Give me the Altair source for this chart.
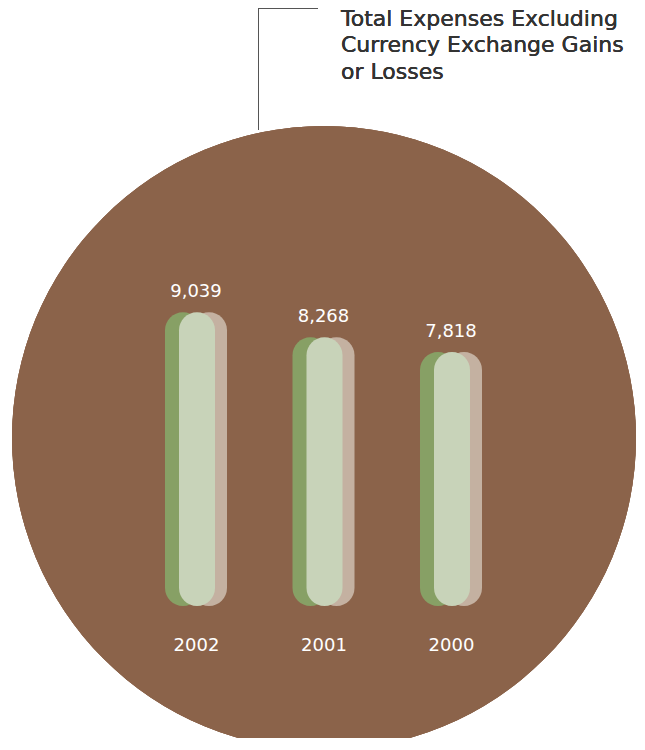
import altair as alt
import pandas as pd

years = ["2002", "2001", "2000"]
expenses = [9039, 8268, 7818]
labels = ["9,039", "8,268", "7,818"]
title_lines = ["Total Expenses Excluding", "Currency Exchange Gains", "or Losses"]

df = pd.DataFrame({"year": years, "value": expenses, "label": labels})

BROWN = "#8B634A"
GREEN = "#87A065"
LIGHT = "#C8D3B9"
TAN = "#C4B1A1"

W, H = 629, 598

x = alt.X("year:N", sort=years,
          scale=alt.Scale(type="point", range=[188, 443], padding=0),
          axis=alt.Axis(title=None, domain=False, ticks=False, tickSize=0,
                        labelPadding=30, labelAngle=0, labelColor="white",
                        labelFont="DejaVu Sans", labelFontSize=18, grid=False,
                        zindex=2))
y = alt.Y("value:Q", scale=alt.Scale(domain=[0, 18400]), axis=None)

base = alt.Chart(df)

circle = base.mark_point(shape="circle", filled=True, opacity=1, color=BROWN,
                         strokeWidth=0).encode(
    x=alt.value(316), y=alt.value(430), size=alt.value(389376)
)

vline = base.mark_rule(color="#555555", strokeWidth=1).encode(
    x=alt.value(250.5), y=alt.value(0), y2=alt.value(122)
)
hline = base.mark_rule(color="#555555", strokeWidth=1).encode(
    x=alt.value(250), x2=alt.value(310), y=alt.value(0.5)
)

def capsule(color, off):
    return base.mark_bar(width=36, cornerRadius=18, xOffset=off, color=color).encode(
        x=x, y=y, y2=alt.datum(0)
    )

green = capsule(GREEN, -13)
tan = capsule(TAN, 13)
light = capsule(LIGHT, 1)

values = base.mark_text(color="white", font="DejaVu Sans", fontSize=18,
                        baseline="alphabetic", dy=-15).encode(
    x=x, y=y, text="label:N"
)

title = base.mark_text(align="left", baseline="alphabetic", font="DejaVu Sans",
                       fontSize=22, lineHeight=26.5, color="#333333").encode(
    x=alt.value(333), y=alt.value(17.5), text=alt.value(title_lines)
)

chart = alt.layer(circle, vline, hline, green, tan, light, values, title).properties(
    width=W, height=H,
    background="white",
    autosize=alt.AutoSizeParams(type="none"),
    padding={"left": 0, "top": 0, "right": 0, "bottom": 132},
).configure_view(strokeWidth=0, stroke="transparent")

chart.save("out.html", embed_options={"renderer": "svg", "actions": False})
